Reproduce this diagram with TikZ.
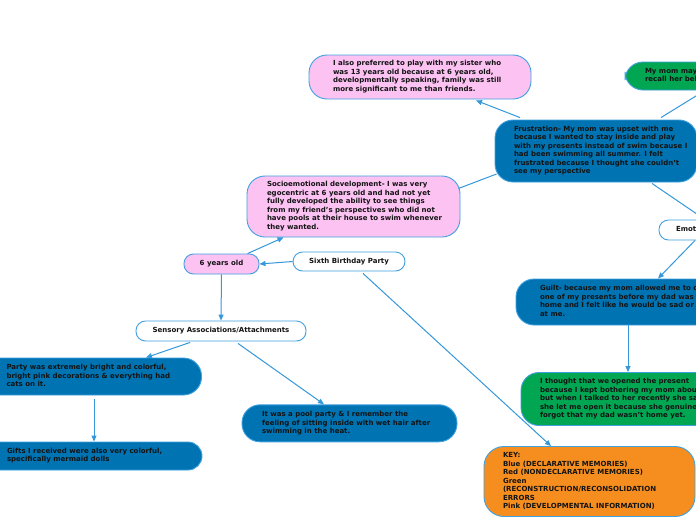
\documentclass[tikz,border=0pt]{standalone}
\usepackage{fontspec}
\setmainfont{DejaVu Sans}
\usetikzlibrary{arrows.meta,calc}
\definecolor{nblue}{RGB}{0,115,178}
\definecolor{npink}{RGB}{251,194,242}
\definecolor{ngreen}{RGB}{0,166,81}
\definecolor{norange}{RGB}{246,142,31}
\definecolor{edge}{RGB}{64,160,224}
\definecolor{conn}{RGB}{52,152,219}
\definecolor{ink}{RGB}{20,20,20}
\newcommand\boxtext[2]{\makebox[#1][l]{\begin{tabular}{@{}l@{}}#2\end{tabular}}}
\tikzset{
  base/.style={draw=edge, line width=0.9pt, inner sep=0pt, rounded corners=18pt,
    font=\fontsize{7}{8.5}\selectfont\bfseries, text=ink},
  bluebox/.style={base, fill=nblue},
  pinkbox/.style={base, fill=npink},
  greenbox/.style={base, fill=ngreen},
  orangebox/.style={base, fill=norange},
  pill/.style={base, rounded corners=9.5pt, minimum height=19pt},
  arr/.style={draw=conn, line width=1pt, -{Triangle[length=6pt,width=5pt]}},
  link/.style={draw=conn, line width=1pt}
}
\begin{document}
\begin{tikzpicture}[x=1pt,y=-1pt]
\useasboundingbox[fill=white] (0,0) rectangle (696,520);

\node[pinkbox, minimum width=222pt, minimum height=44pt] (pinka) at (420,77)
  {\boxtext{174pt}{I also preferred to play with my sister who\\was 13 years old because at 6 years old,\\developmentally speaking, family was still\\more significant to me than friends.}};

\node[greenbox, minimum width=160pt, minimum height=28pt] (greena) at (705,76)
  {\boxtext{120pt}{My mom may\\recall her bel}};

\node[bluebox, minimum width=202pt, minimum height=62pt] (frust) at (596,151)
  {\boxtext{164pt}{Frustration- My mom was upset with me\\because I wanted to stay inside and play\\with my presents instead of swim because I\\had been swimming all summer. I felt\\frustrated because I thought she couldn't\\see my perspective}};

\node[pinkbox, minimum width=213pt, minimum height=61pt] (socio) at (353.5,206.5)
  {\boxtext{173pt}{Socioemotional development- I was very\\egocentric at 6 years old and had not yet\\fully developed the ability to see things\\from my friend's perspectives who did not\\have pools at their house to swim whenever\\they wanted.}};

\node[pill, fill=white, minimum width=80pt, minimum height=20pt] (emot) at (699,230)
  {\boxtext{46pt}{Emot}};

\node[pill, fill=npink, minimum width=75pt, minimum height=20pt] (yrs) at (221.5,264) {6 years old};

\node[pill, fill=white, minimum width=112pt] (six) at (349,261.5) {Sixth Birthday Party};

\node[pill, fill=white, minimum width=170pt, minimum height=20pt] (sens) at (221,331) {Sensory Associations/Attachments};

\node[bluebox, minimum width=232pt, minimum height=37pt] (party) at (85.5,376.5)
  {\boxtext{158pt}{Party was extremely bright and colorful,\\bright pink decorations \& everything had\\cats on it.}};

\node[bluebox, minimum width=232pt, minimum height=28pt, rounded corners=14pt] (gifts) at (86,456)
  {\boxtext{158pt}{Gifts I received were also very colorful,\\specifically mermaid dolls}};

\node[bluebox, minimum width=215pt, minimum height=37pt] (pool) at (349.5,423.3)
  {\boxtext{175pt}{It was a pool party \& I remember the\\feeling of sitting inside with wet hair after\\swimming in the heat.}};

\node[bluebox, minimum width=230pt, minimum height=46pt] (guilt) at (631,302)
  {\boxtext{182pt}{Guilt- because my mom allowed me to o\\one of my presents before my dad was\\home and I felt like he would be sad or\\at me.}};

\node[greenbox, minimum width=230pt, minimum height=53pt] (think) at (636,399)
  {\boxtext{192pt}{I thought that we opened the present\\because I kept bothering my mom abou\\but when I talked to her recently she sa\\she let me open it because she genuine\\forgot that my dad wasn't home yet.}};

\node[orangebox, minimum width=211pt, minimum height=70pt, rounded corners=20pt] (key) at (589.5,481.5)
  {\boxtext{173pt}{KEY:\\Blue (DECLARATIVE MEMORIES)\\Red (NONDECLARATIVE MEMORIES)\\Green\\(RECONSTRUCTION/RECONSOLIDATION\\ERRORS\\Pink (DEVELOPMENTAL INFORMATION)}};

% connectors
\draw[arr] (six.west) -- (yrs.east);
\draw[arr] ($(yrs.north)+(26,0)$) -- ($(socio.south)+(-70,0)$);
\draw[link] ($(socio.east)+(-2,-18)$) -- ($(frust.west)+(2,23)$);
\draw[arr] ($(frust.north)+(-76,-2)$) -- ($(pinka.south)+(56,1)$);
\draw[arr] ($(frust.north)+(65,-2)$) -- (greena.south);
\draw[arr] ($(frust.south)+(56,1)$) -- ($(emot.north)+(6,0)$);
\draw[arr] ($(emot.south)+(-4,0)$) -- ($(guilt.north)+(27,0)$);
\draw[arr] ($(guilt.south)+(-3,0)$) -- ($(think.north)+(-8,0)$);
\draw[arr] ($(six.south)+(14,2)$) -- ($(key.north)+(-38.5,0)$);
\draw[arr] (yrs.south) -- (sens.north);
\draw[arr] ($(sens.south)+(-31,1)$) -- ($(party.north)+(60.5,0)$);
\draw[arr] ($(sens.south)+(17,2)$) -- ($(pool.north)+(-25.5,0)$);
\draw[arr] ($(party.south)+(8.5,4)$) -- ($(gifts.north)+(8,0)$);
\end{tikzpicture}
\end{document}
